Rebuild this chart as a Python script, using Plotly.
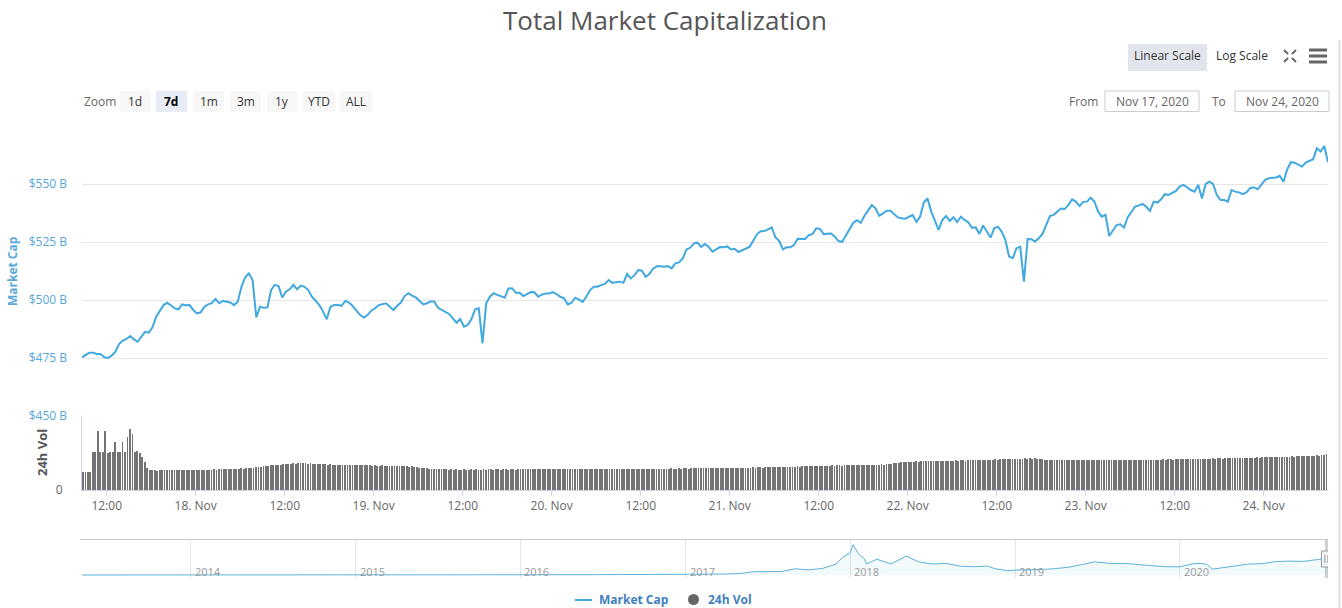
import plotly.graph_objects as go
import pandas as pd

W, H = 1342, 608

# ---------------- data ----------------
# Total market cap, $B, every 30 minutes from 17 Nov 2020 08:40
market_cap_b = [
    475.3, 476.4, 477.3, 477.3, 476.7, 476.7, 475.3, 475.0, 476.0, 477.7,
    481.0, 482.5, 483.2, 484.5, 483.0, 482.0, 484.2, 486.3, 485.9, 488.2,
    492.8, 495.4, 497.8, 498.8, 497.5, 496.4, 496.0, 498.1, 497.7, 497.8,
    495.7, 494.2, 494.7, 497.1, 498.1, 498.6, 500.4, 498.6, 499.6, 499.3,
    498.9, 497.8, 499.3, 505.7, 509.8, 511.5, 508.6, 492.5, 497.1, 496.7,
    496.8, 504.3, 506.5, 506.0, 501.1, 503.6, 504.6, 506.5, 504.6, 506.2,
    505.7, 504.3, 501.4, 499.7, 497.8, 495.0, 491.7, 497.1, 497.8, 497.8,
    497.5, 499.6, 498.9, 497.4, 495.3, 493.5, 492.4, 493.5, 495.4, 496.4,
    497.8, 498.1, 498.6, 497.1, 495.7, 497.5, 498.9, 501.7, 502.9, 501.9,
    501.1, 499.7, 498.1, 498.6, 499.3, 499.3, 496.7, 495.7, 495.0, 494.0,
    492.1, 490.2, 491.8, 488.5, 489.2, 491.7, 496.0, 496.4, 481.3, 498.6,
    501.4, 502.9, 502.2, 501.7, 501.0, 505.0, 505.1, 503.1, 503.1, 501.7,
    502.4, 503.4, 503.3, 501.4, 502.3, 502.8, 502.8, 503.4, 502.5, 501.4,
    500.7, 498.1, 498.8, 501.0, 500.2, 499.2, 501.4, 504.3, 505.7, 505.7,
    506.4, 506.9, 508.6, 507.4, 507.7, 507.9, 507.4, 511.2, 509.3, 510.7,
    512.9, 512.6, 510.0, 511.2, 513.5, 514.5, 514.5, 514.3, 514.6, 513.6,
    515.8, 516.2, 517.9, 521.8, 522.5, 524.4, 524.7, 522.9, 524.1, 522.9,
    520.8, 521.8, 522.8, 522.7, 523.1, 521.8, 522.1, 520.7, 521.5, 522.1,
    522.9, 525.5, 528.3, 529.6, 529.7, 530.4, 531.3, 527.0, 525.5, 521.8,
    522.7, 522.7, 523.7, 526.4, 526.5, 526.3, 528.0, 528.4, 530.9, 530.6,
    528.4, 528.7, 528.7, 527.3, 525.4, 525.1, 528.0, 530.4, 533.3, 534.4,
    533.3, 536.3, 538.5, 540.9, 539.5, 536.3, 537.3, 538.5, 538.5, 536.9,
    535.6, 535.2, 535.0, 535.9, 536.6, 533.7, 535.9, 542.0, 543.8, 538.1,
    534.5, 530.2, 534.5, 536.2, 534.1, 535.7, 533.6, 535.9, 534.5, 533.5,
    531.1, 531.3, 528.5, 532.1, 529.5, 526.9, 530.9, 531.6, 529.5, 525.9,
    518.7, 518.0, 522.3, 523.0, 507.9, 526.3, 526.2, 525.2, 526.6, 528.5,
    532.3, 536.2, 536.7, 538.1, 539.4, 539.2, 541.0, 543.4, 542.4, 540.5,
    542.3, 542.4, 544.1, 542.4, 538.1, 535.9, 536.7, 527.6, 529.9, 532.3,
    532.6, 531.2, 535.7, 538.1, 540.3, 540.8, 541.4, 540.2, 538.4, 542.4,
    542.0, 543.4, 545.6, 545.3, 546.3, 547.0, 548.9, 549.6, 548.6, 547.4,
    546.7, 549.7, 543.8, 549.9, 551.0, 550.0, 545.3, 543.1, 543.1, 542.4,
    547.4, 546.7, 546.4, 545.6, 546.4, 548.2, 548.6, 547.7, 549.6, 551.7,
    552.5, 552.5, 552.8, 553.5, 551.0, 556.3, 559.4, 559.2, 558.5, 557.5,
    559.2, 559.9, 560.7, 565.4, 564.0, 566.4, 559.4,
]

# 24h volume, $B, every 20 minutes
volume_b = [
    61, 61, 62, 61, 128, 127, 199, 128, 127, 199, 126, 128, 127, 162, 127, 129, 162, 130, 179, 206, 189, 130, 131, 125,
    110, 95, 75, 68, 66, 66, 65, 66, 66, 67, 66, 66, 67, 67, 66, 67, 67, 68, 67, 67, 68, 67, 68, 68,
    68, 69, 68, 69, 69, 70, 69, 70, 70, 71, 70, 71, 71, 72, 71, 72, 73, 72, 73, 74, 75, 76, 77, 78,
    79, 80, 81, 82, 83, 84, 85, 86, 86, 87, 88, 88, 89, 90, 89, 90, 90, 91, 90, 89, 90, 89, 88, 88,
    87, 88, 87, 86, 87, 86, 86, 85, 86, 85, 85, 84, 85, 84, 84, 85, 84, 83, 84, 83, 84, 82, 83, 82,
    82, 83, 82, 81, 82, 81, 82, 81, 80, 81, 80, 80, 79, 80, 78, 77, 76, 75, 74, 73, 72, 72, 71, 71,
    70, 71, 70, 70, 69, 70, 69, 70, 69, 69, 70, 69, 69, 70, 69, 70, 69, 69, 70, 69, 70, 70, 69, 70,
    70, 69, 70, 70, 69, 70, 70, 69, 70, 70, 71, 70, 70, 71, 70, 70, 71, 70, 71, 70, 70, 71, 70, 71,
    70, 71, 70, 71, 71, 70, 71, 71, 70, 71, 71, 70, 71, 71, 70, 71, 70, 71, 71, 70, 71, 71, 70, 71,
    71, 70, 71, 71, 70, 71, 71, 72, 71, 71, 72, 71, 72, 71, 72, 72, 71, 72, 72, 71, 72, 72, 73, 72,
    72, 73, 72, 73, 73, 72, 73, 73, 74, 73, 74, 74, 73, 74, 74, 75, 74, 75, 75, 74, 75, 75, 76, 75,
    76, 75, 76, 76, 75, 76, 76, 77, 76, 77, 77, 76, 77, 77, 78, 77, 78, 78, 77, 78, 79, 78, 79, 79,
    79, 80, 79, 80, 80, 81, 80, 81, 81, 82, 81, 82, 82, 81, 82, 83, 82, 83, 83, 82, 83, 84, 83, 84,
    84, 85, 84, 85, 85, 86, 85, 86, 86, 85, 86, 87, 86, 87, 88, 89, 90, 91, 92, 93, 94, 95, 95, 96,
    96, 97, 96, 97, 97, 98, 97, 98, 98, 97, 98, 99, 98, 99, 99, 98, 99, 100, 99, 100, 100, 99, 100, 101,
    100, 101, 101, 102, 101, 102, 103, 102, 103, 104, 103, 104, 105, 104, 105, 106, 105, 106, 106, 105, 106, 107, 106, 107,
    106, 107, 106, 105, 104, 103, 102, 101, 100, 101, 100, 101, 100, 100, 101, 100, 101, 100, 101, 101, 100, 101, 100, 101,
    101, 100, 101, 101, 100, 101, 101, 102, 101, 102, 101, 102, 102, 101, 102, 102, 101, 102, 103, 102, 103, 102, 103, 103,
    102, 103, 103, 102, 103, 104, 103, 104, 104, 103, 104, 104, 105, 104, 105, 104, 105, 105, 106, 105, 106, 106, 105, 106,
    106, 107, 106, 107, 107, 106, 107, 108, 107, 108, 108, 107, 108, 109, 108, 109, 109, 108, 109, 110, 109, 110, 110, 111,
    110, 111, 111, 112, 111, 112, 113, 112, 113, 114, 113, 114, 114, 115, 114, 115, 116, 115, 116, 117, 116, 117, 118, 120,
]

# Navigator: whole history of total market cap, $B
nav_dates = [
    "2013-05-01", "2013-06-01", "2013-07-01", "2013-08-01", "2013-09-01", "2013-10-01", "2013-11-01", "2013-12-01",
    "2014-01-01", "2014-02-01", "2014-03-01", "2014-04-01", "2014-05-01", "2014-06-01", "2014-07-01", "2014-08-01",
    "2014-09-01", "2014-10-01", "2014-11-01", "2014-12-01",
    "2015-01-01", "2015-02-01", "2015-03-01", "2015-04-01", "2015-05-01", "2015-06-01", "2015-07-01", "2015-08-01",
    "2015-09-01", "2015-10-01", "2015-11-01", "2015-12-01",
    "2016-01-01", "2016-02-01", "2016-03-01", "2016-04-01", "2016-05-01", "2016-06-01", "2016-07-01", "2016-08-01",
    "2016-09-01", "2016-10-01", "2016-11-01", "2016-12-01",
    "2017-01-01", "2017-02-01", "2017-03-01", "2017-04-01", "2017-05-01", "2017-06-01", "2017-07-01", "2017-08-01",
    "2017-09-01", "2017-10-01", "2017-11-01", "2017-12-01", "2017-12-15",
    "2018-01-01", "2018-01-07", "2018-01-20", "2018-02-01", "2018-02-06", "2018-03-01", "2018-04-01", "2018-05-05",
    "2018-06-01", "2018-07-01", "2018-08-01", "2018-09-01", "2018-10-01", "2018-11-01", "2018-11-20", "2018-12-01",
    "2018-12-15",
    "2019-01-01", "2019-02-01", "2019-03-01", "2019-04-01", "2019-05-01", "2019-06-01", "2019-06-26", "2019-07-01",
    "2019-08-01", "2019-09-01", "2019-10-01", "2019-11-01", "2019-12-01",
    "2020-01-01", "2020-02-01", "2020-02-15", "2020-03-01", "2020-03-13", "2020-04-01", "2020-05-01", "2020-06-01",
    "2020-07-01", "2020-08-01", "2020-09-01", "2020-10-01", "2020-11-01", "2020-11-24",
]
nav_values = [
    1.5, 1.2, 1.0, 1.3, 1.5, 2.0, 5, 13,
    10, 10, 8, 6, 6.5, 8.5, 8, 7.5, 6.5, 5.5, 5.3, 5,
    4.2, 3.3, 3.6, 3.7, 3.5, 3.5, 4.2, 4.5, 3.5, 3.7, 5.5, 6,
    7.5, 6.5, 7.5, 7.5, 8, 9.5, 12, 11, 10.5, 11, 12, 12.5,
    17, 19, 24, 28, 40, 90, 100, 95, 170, 140, 180, 300, 480,
    600, 820, 560, 450, 300, 430, 300, 513,
    360, 300, 315, 243, 225, 243, 162, 150, 116,
    135, 140, 150, 175, 215, 290, 360, 350, 315, 315, 285, 270, 225,
    225, 310, 315, 290, 160, 190, 245, 297, 310, 365, 378, 370, 420, 450,
]

x_tick_labels = ["12:00", "18. Nov", "12:00", "19. Nov", "12:00", "20. Nov", "12:00",
                 "21. Nov", "12:00", "22. Nov", "12:00", "23. Nov", "12:00", "24. Nov"]
y_tick_values = [450, 475, 500, 525, 550, 575]
y_tick_labels = ["$450 B", "$475 B", "$500 B", "$525 B", "$550 B", ""]
nav_years = ["2014", "2015", "2016", "2017", "2018", "2019", "2020"]
range_buttons = ["1d", "7d", "1m", "3m", "1y", "YTD", "ALL"]
selected_button = "7d"
date_from, date_to = "Nov 17, 2020", "Nov 24, 2020"

# ---------------- helpers ----------------
FONT = "Open Sans"


def px(x):
    return x / W


def py(y):
    return 1 - y / H


start = pd.Timestamp("2020-11-17 08:40")
end = pd.Timestamp("2020-11-24 08:40")
mc_times = pd.date_range(start, periods=len(market_cap_b), freq="30min")
vol_times = pd.date_range(start + pd.Timedelta(minutes=8), periods=len(volume_b), freq="20min")
tick_times = pd.date_range("2020-11-17 12:00", periods=len(x_tick_labels), freq="12h")

LINE_BLUE = "#41a8e0"
AXIS_BLUE = "#58a7da"
GRID = "#e6e6e6"

fig = go.Figure()

fig.add_trace(go.Scatter(x=mc_times, y=market_cap_b, mode="lines", name="Market Cap",
                         line=dict(color=LINE_BLUE, width=2), xaxis="x", yaxis="y"))
fig.add_trace(go.Bar(x=vol_times, y=volume_b, name="24h Vol", marker=dict(color="#737373", line_width=0),
                     width=400000, xaxis="x2", yaxis="y2"))
fig.add_trace(go.Scatter(x=pd.to_datetime(nav_dates), y=nav_values, mode="lines",
                         line=dict(color="#5bb3d9", width=1), fill="tozeroy",
                         fillcolor="rgba(91,179,217,0.07)", xaxis="x3", yaxis="y3"))

xdom = [px(82), px(1328)]
fig.update_layout(
    width=W, height=H,
    margin=dict(l=0, r=0, t=0, b=0, autoexpand=False),
    paper_bgcolor="white", plot_bgcolor="white",
    showlegend=False,
    font=dict(family=FONT, color="#666"),
    bargap=0,
    xaxis=dict(domain=xdom, anchor="y", range=[start, end], showticklabels=False,
               showgrid=False, zeroline=False, ticks="", automargin=False),
    xaxis2=dict(domain=xdom, anchor="y2", matches="x", range=[start, end],
                tickmode="array", tickvals=tick_times, ticktext=x_tick_labels,
                ticks="outside", ticklen=5, tickcolor="#ccd6eb",
                showline=True, linecolor="#ccd6eb", showgrid=False, zeroline=False,
                tickfont=dict(size=12, color="#666"), automargin=False),
    xaxis3=dict(domain=xdom, anchor="y3", range=["2013-05-05", end],
                showticklabels=False, showgrid=True, gridcolor=GRID,
                tick0="2014-01-01", dtick="M12", zeroline=False, ticks="", automargin=False),
    yaxis=dict(domain=[py(416), py(126)], anchor="x", range=[450, 575],
               tickmode="array", tickvals=y_tick_values, ticktext=y_tick_labels,
               gridcolor=GRID, zeroline=False, ticks="", ticklabelstandoff=14,
               tickfont=dict(size=12, color=AXIS_BLUE), automargin=False),
    yaxis2=dict(domain=[py(490), py(416)], anchor="x2", range=[0, 250],
                tickmode="array", tickvals=[0], ticktext=["0"], showgrid=False,
                zeroline=False, ticks="", ticklabelstandoff=16,
                showline=True, linecolor="#ccd6eb",
                tickfont=dict(size=12, color="#666"), automargin=False),
    yaxis3=dict(domain=[py(578), py(540)], anchor="x3", range=[-80, 950],
                showticklabels=False, showgrid=False, zeroline=False, automargin=False),
)

shapes = []
ann = []


def text(x, y, s, size=12, color="#333", xanchor="center", **kw):
    d = dict(x=px(x), y=py(y), xref="paper", yref="paper", text=s, showarrow=False,
             xanchor=xanchor, yanchor="middle", font=dict(size=size, color=color, family=FONT))
    d.update(kw)
    ann.append(d)


# title
text(665, 20, "Total Market Capitalization", size=26, color="#555")

# axis titles
text(12, 271, "<b>Market Cap</b>", size=12, color=AXIS_BLUE, textangle=-90)
text(42, 453, "<b>24h Vol</b>", size=13, color="#555", textangle=-90)

# zoom buttons
text(82, 101, "Zoom", color="#666", xanchor="left")
btn_x = [120, 156, 193, 230, 267, 303, 340]
btn_w = [30, 31, 31, 31, 30, 32, 32]
for lbl, bx, bw in zip(range_buttons, btn_x, btn_w):
    sel = lbl == selected_button
    shapes.append(dict(type="rect", xref="paper", yref="paper", x0=px(bx), x1=px(bx + bw),
                       y0=py(112), y1=py(91), fillcolor="#e6ebf5" if sel else "#f7f7f7",
                       line=dict(width=0), layer="below"))
    text(bx + bw / 2, 101, f"<b>{lbl}</b>" if sel else lbl, color="#000" if sel else "#333")

# scale buttons
shapes.append(dict(type="rect", xref="paper", yref="paper", x0=px(1128), x1=px(1207), y0=py(71), y1=py(44),
                   fillcolor="#e2e5eb", line=dict(width=0), layer="below"))
text(1167.5, 56, "Linear Scale")
text(1242, 56, "Log Scale")
# fullscreen icon
cx, cy = 1290, 56
for sx in (-1, 1):
    for sy in (-1, 1):
        shapes.append(dict(type="line", xref="paper", yref="paper",
                           x0=px(cx + sx * 6), y0=py(cy + sy * 6), x1=px(cx + sx * 2), y1=py(cy + sy * 2),
                           line=dict(color="#666", width=2)))
# hamburger
for hy in (50, 56, 62):
    shapes.append(dict(type="line", xref="paper", yref="paper", x0=px(1309), x1=px(1327),
                       y0=py(hy), y1=py(hy), line=dict(color="#666", width=3)))

# date inputs
text(1083, 101, "From", color="#666")
text(1219, 101, "To", color="#666")
for (bx0, bx1), txt in (((1105, 1199), date_from), ((1235, 1329), date_to)):
    shapes.append(dict(type="rect", xref="paper", yref="paper", x0=px(bx0), x1=px(bx1),
                       y0=py(111.5), y1=py(91), fillcolor="white", line=dict(color="#cccccc", width=1),
                       layer="below"))
    text((bx0 + bx1) / 2, 101, txt, color="#666")

# navigator outline and years
shapes.append(dict(type="line", xref="paper", yref="paper", x0=px(80), x1=px(1328), y0=py(539.5), y1=py(539.5),
                   line=dict(color="#cccccc", width=1)))
for yr in nav_years:
    ann.append(dict(x=f"{yr}-01-01", y=py(571), xref="x3", yref="paper", xanchor="left", yanchor="middle",
                    xshift=2, text=yr, showarrow=False, font=dict(size=11, color="#999", family=FONT)))
# selected window in navigator
shapes.append(dict(type="rect", xref="x3", yref="paper", x0=start, x1=end, y0=py(578), y1=py(540),
                   fillcolor="rgba(150,150,160,0.45)", line=dict(width=0)))
mid = start + (end - start) / 2
shapes.append(dict(type="rect", xref="x3", yref="paper", xsizemode="pixel", xanchor=mid,
                   x0=-5, x1=4, y0=py(567), y1=py(551), fillcolor="#f2f2f2",
                   line=dict(color="#999", width=1)))
for off in (-1.5, 1.5):
    shapes.append(dict(type="line", xref="x3", yref="paper", xsizemode="pixel", xanchor=mid,
                       x0=off, x1=off, y0=py(563), y1=py(555), line=dict(color="#999", width=1)))

# page scrollbar hint at right
shapes.append(dict(type="line", xref="paper", yref="paper", x0=px(1339.5), x1=px(1339.5), y0=py(40), y1=py(608),
                   line=dict(color="#e0e0e0", width=2)))

# legend
shapes.append(dict(type="line", xref="paper", yref="paper", x0=px(575), x1=px(592), y0=py(600), y1=py(600),
                   line=dict(color=LINE_BLUE, width=2)))
text(597, 599, "<b>Market Cap</b>", color="#3f7fc0", xanchor="left")
shapes.append(dict(type="circle", xref="paper", yref="paper", x0=px(688), x1=px(699), y0=py(605), y1=py(594),
                   fillcolor="#666", line=dict(width=0)))
text(706, 599, "<b>24h Vol</b>", color="#3f7fc0", xanchor="left")

fig.update_layout(shapes=shapes, annotations=ann)
fig.write_html("out.html")
